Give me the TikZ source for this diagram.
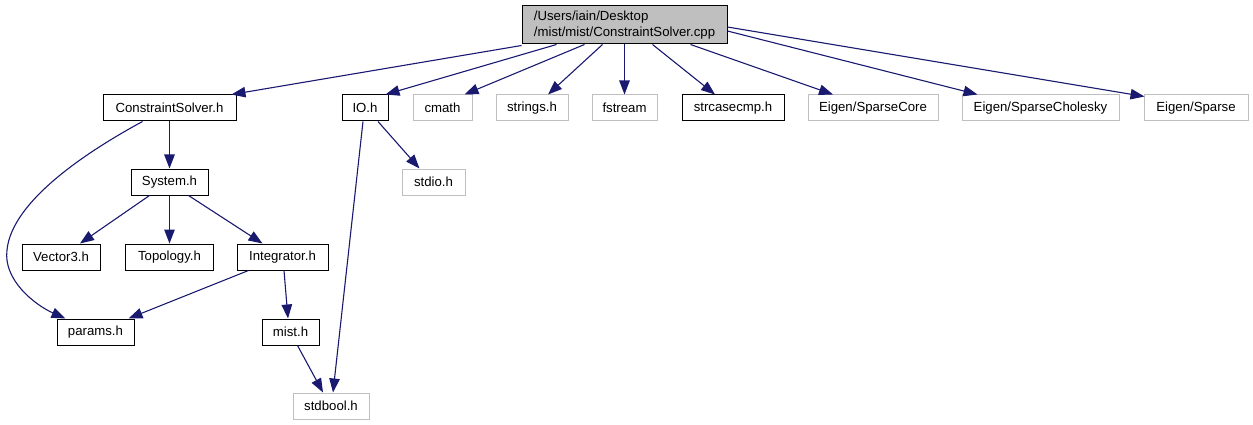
\documentclass[tikz,border=0pt]{standalone}
\usepackage{fontspec}
\setmainfont{Liberation Sans}
\usetikzlibrary{arrows.meta}
\definecolor{edgec}{HTML}{191970}
\definecolor{grayb}{HTML}{BFBFBF}
\tikzset{
  box/.style={draw=black, line width=1pt, minimum height=26pt, inner sep=0pt, anchor=center,
    font=\fontsize{13.2}{16}\selectfont},
  gbox/.style={box, draw=grayb},
  edge/.style={draw=edgec, line width=1.1pt, -{Triangle[length=14pt,width=10.5pt]}},
}
\begin{document}
\begin{tikzpicture}[x=1pt,y=-1pt]
\useasboundingbox (0,0) rectangle (1253,425);
\node[box, fill=grayb, minimum width=205pt, minimum height=38pt, align=left] (root) at (624.5,25)
  {/Users/iain/Desktop\\/mist/mist/ConstraintSolver.cpp};
\node[box, minimum width=133pt] (cs) at (169.5,108) {ConstraintSolver.h};
\node[box, minimum width=46pt] (io) at (365,108) {IO.h};
\node[gbox, minimum width=59pt] (cmath) at (442.5,108) {cmath};
\node[gbox, minimum width=72pt] (strings) at (532,108) {strings.h};
\node[gbox, minimum width=65pt] (fstream) at (624.5,108) {fstream};
\node[box, minimum width=102pt] (strcase) at (733,108) {strcasecmp.h};
\node[gbox, minimum width=130pt] (score) at (873,108) {Eigen/SparseCore};
\node[gbox, minimum width=157pt] (schol) at (1040.5,108) {Eigen/SparseCholesky};
\node[gbox, minimum width=104pt] (sparse) at (1196,108) {Eigen/Sparse};
\node[box, minimum width=77pt] (system) at (169.5,182) {System.h};
\node[gbox, minimum width=63pt] (stdio) at (433.5,182) {stdio.h};
\node[box, minimum width=78pt] (vec) at (61,257) {Vector3.h};
\node[box, minimum width=88pt] (topo) at (169.5,257) {Topology.h};
\node[box, minimum width=91pt] (integ) at (282.5,257) {Integrator.h};
\node[box, minimum width=77pt] (params) at (95.5,332) {params.h};
\node[box, minimum width=57pt] (mist) at (290.5,332) {mist.h};
\node[gbox, minimum width=76pt] (stdbool) at (331,406) {stdbool.h};

% root edges
\draw[edge] ([xshift=0pt,yshift=-1pt]root.south west) -- ([xshift=-5pt]cs.north east);
\draw[edge] ([xshift=-68pt]root.south) -- ([xshift=-3pt]io.north east);
\draw[edge] ([xshift=-40pt]root.south) -- ([xshift=-8pt]cmath.north east);
\draw[edge] ([xshift=-22pt]root.south) -- ([xshift=16pt]strings.north);
\draw[edge] (root.south) -- (fstream.north);
\draw[edge] ([xshift=28pt]root.south) -- ([xshift=-18pt]strcase.north);
\draw[edge] ([xshift=66pt]root.south) -- ([xshift=-40pt]score.north);
\draw[edge] ([yshift=-6pt]root.east) -- ([xshift=-63pt]schol.north);
\draw[edge] ([yshift=-2pt]root.east) -- ([xshift=1pt,yshift=-2pt]sparse.north west);

% other edges
\draw[edge] (cs) -- (system);
\draw[edge] ([xshift=-27pt]cs.south) .. controls (90,150) and (12,200) .. (7,250)
  .. controls (3,280) and (35,305) .. ([xshift=-30pt]params.north);
\draw[edge] ([xshift=13pt]io.south) -- ([xshift=-14pt]stdio.north);
\draw[edge] ([xshift=-2pt]io.south) -- ([xshift=2pt]stdbool.north);
\draw[edge] ([xshift=-20pt]system.south) -- ([xshift=19pt]vec.north);
\draw[edge] (system) -- (topo);
\draw[edge] ([xshift=19pt]system.south) -- ([xshift=-20pt]integ.north);
\draw[edge] ([xshift=-34pt]integ.south) -- ([xshift=33pt]params.north);
\draw[edge] ([xshift=1.5pt]integ.south) -- ([xshift=-2.5pt]mist.north);
\draw[edge] ([xshift=7pt]mist.south) -- ([xshift=-8pt]stdbool.north);
\end{tikzpicture}
\end{document}
